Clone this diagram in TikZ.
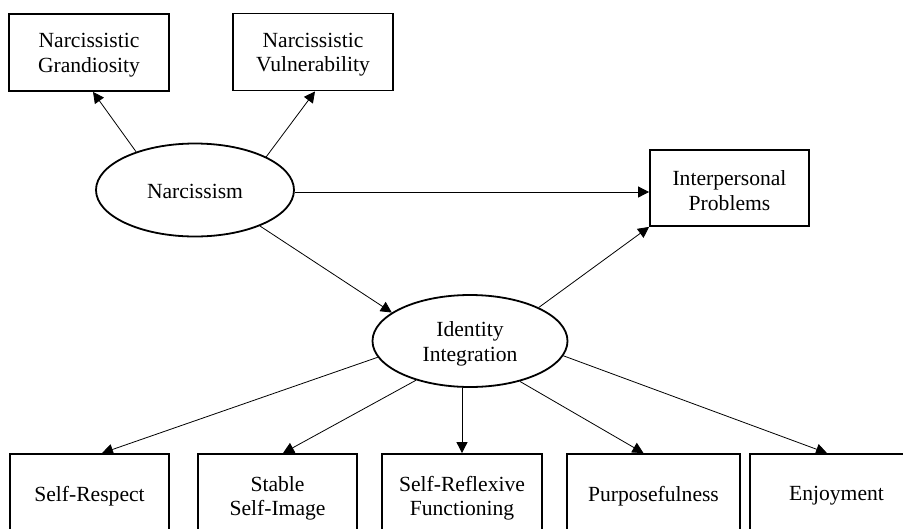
\documentclass[tikz,border=0pt]{standalone}
\usepackage{fontspec}
\setmainfont{Liberation Serif}
\usetikzlibrary{arrows.meta,calc,shapes.geometric}
\newcommand\tstrut{\rule{0pt}{20pt}}
\begin{document}
\begin{tikzpicture}[x=1pt,y=-1pt,
  every node/.style={font=\fontsize{21.6}{24.5}\selectfont, align=center, inner sep=0pt},
  obsbox/.style={draw, line width=1.8pt, rectangle, minimum height=77pt},
  latent/.style={draw, line width=1.8pt, ellipse},
  conn/.style={line width=0.8pt, -{Triangle[length=11pt,width=11pt]}}]
\useasboundingbox (0,0) rectangle (903,528);
\clip (0,0) rectangle (903,528);
% top boxes
\node[obsbox, minimum width=160pt] (grand) at (89,52.5) {\tstrut Narcissistic\\Grandiosity};
\node[obsbox, minimum width=160pt] (vuln) at (313,52) {\tstrut Narcissistic\\Vulnerability};
\node[obsbox, minimum width=159pt, minimum height=76pt] (inter) at (729.5,188) {\tstrut Interpersonal\\Problems};
% latent ellipses
\node[latent, minimum width=198pt, minimum height=93pt] (narc) at (195,190) {\rule{0pt}{17pt}Narcissism};
\node[latent, minimum width=195pt, minimum height=92pt] (ident) at (470,341) {\rule{0pt}{21pt}Identity\\Integration};
% bottom boxes
\node[obsbox, minimum width=159pt, minimum height=84pt] (sr) at (89.5,496) {Self-Respect};
\node[obsbox, minimum width=159pt, minimum height=84pt] (ssi) at (277.5,496) {\tstrut Stable\\Self-Image};
\node[obsbox, minimum width=160pt, minimum height=84pt] (srf) at (462,496) {\tstrut Self-Reflexive\\Functioning};
\node[obsbox, minimum width=173pt, minimum height=84pt] (purp) at (653.5,496) {Purposefulness};
\node[obsbox, minimum width=173pt, minimum height=84pt] (enj) at (836.5,496) {Enjoyment};
% connectors
\draw[conn] (narc.147) -- ($(grand.south)+(4,0)$);
\draw[conn] (narc.25) -- ($(vuln.south)+(2,0)$);
\draw[conn] ($(narc.east)+(0,2)$) -- ($(narc.east -| inter.west)+(0,2)$);
\draw[conn] (narc.-29) -- (ident.160);
\draw[conn] (ident.26) -- (inter.south west);
\draw[conn] (ident.190) -- ($(sr.north)+(12.5,0)$);
\draw[conn] (ident.216) -- ($(ssi.north)+(5.5,0)$);
\draw[conn] (ident.south -| srf.north) -- (srf.north);
\draw[conn] (ident.-39) -- ($(purp.north)+(-10,0)$);
\draw[conn] (ident.-9) -- ($(enj.north)+(-9.5,0)$);
\end{tikzpicture}
\end{document}
